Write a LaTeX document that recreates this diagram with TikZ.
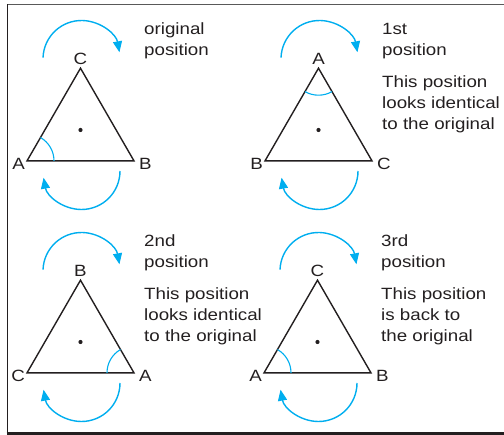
\documentclass[tikz,border=0pt]{standalone}
\usepackage{fontspec}
\setmainfont{Liberation Sans}[FakeStretch=1.15]
\usetikzlibrary{arrows.meta}
\definecolor{turncyan}{RGB}{0,174,239}
\definecolor{inkgray}{RGB}{35,31,32}

\begin{document}
\begin{tikzpicture}[x=1pt, y=-1pt,
  edge/.style={inkgray, line width=1.4pt, line join=miter},
  turn/.style={turncyan, line width=1.4pt, -{Triangle[length=11pt, width=9pt]}},
  angmark/.style={turncyan, line width=1.1pt},
  vlabel/.style={inkgray, font=\fontsize{16.3}{21}\selectfont, inner sep=0pt},
  note/.style={inkgray, font=\fontsize{16.3}{21}\selectfont, align=left, inner sep=0pt, anchor=north west}
]
\useasboundingbox (0,0) rectangle (504,435);

% frame
\draw[black!65, line width=1.3pt] (7.3,4.8) -- (504,4.8);
\draw[inkgray, line width=1.5pt] (7.3,4.2) -- (7.3,433);
\draw[inkgray, line width=3pt] (6.5,433.5) -- (504,433.5);

\foreach \i/\dx/\dy/\ntop/\nleft/\nright/\mk/\ma/\ttl/\dsc in {
  1/0/0/C/A/B/l/-60/{original\\position}/{},
  2/238/0/A/B/C/t/60/{1st\\position}/{This position\\looks identical\\to the original},
  3/0/212/B/C/A/r/180/{2nd\\position}/{This position\\looks identical\\to the original},
  4/237/212/C/A/B/l/-60/{3rd\\position}/{This position\\is back to\\the original}}
{
  \begin{scope}[shift={(\dx,\dy)}]
    \coordinate (p\i-t) at (80.5,68.2);
    \coordinate (p\i-l) at (27,160.9);
    \coordinate (p\i-r) at (134,160.9);
    \coordinate (p\i-c) at (80.5,130);
    \coordinate (p\i-up) at (81.5,59);
    \coordinate (p\i-dn) at (81.5,171);

    \draw[edge] (p\i-l) -- (p\i-r) -- (p\i-t) -- cycle;
    \fill[inkgray] (p\i-c) circle[radius=2.1];
    \draw[angmark] (p\i-\mk) ++(\ma:27) arc[start angle=\ma, end angle=\ma+60, radius=27];

    \node[vlabel, anchor=south] (p\i-nt) at (80.5,65) {\ntop};
    \node[vlabel, anchor=east] (p\i-nl) at (25,164) {\nleft};
    \node[vlabel, anchor=west] (p\i-nr) at (139,164) {\nright};

    % turning arrows
    \draw[turn] (p\i-up) ++(-178:38.5) arc[start angle=-178, end angle=-10, radius=38.5];
    \draw[turn] (p\i-dn) ++(0:38.5) arc[start angle=0, end angle=170, radius=38.5];

    \node[note] (p\i-ttl) at (144,22.8) {\ttl};
    \node[note] (p\i-dsc) at (144,75.8) {\dsc};
  \end{scope}
}
\end{tikzpicture}
\end{document}
